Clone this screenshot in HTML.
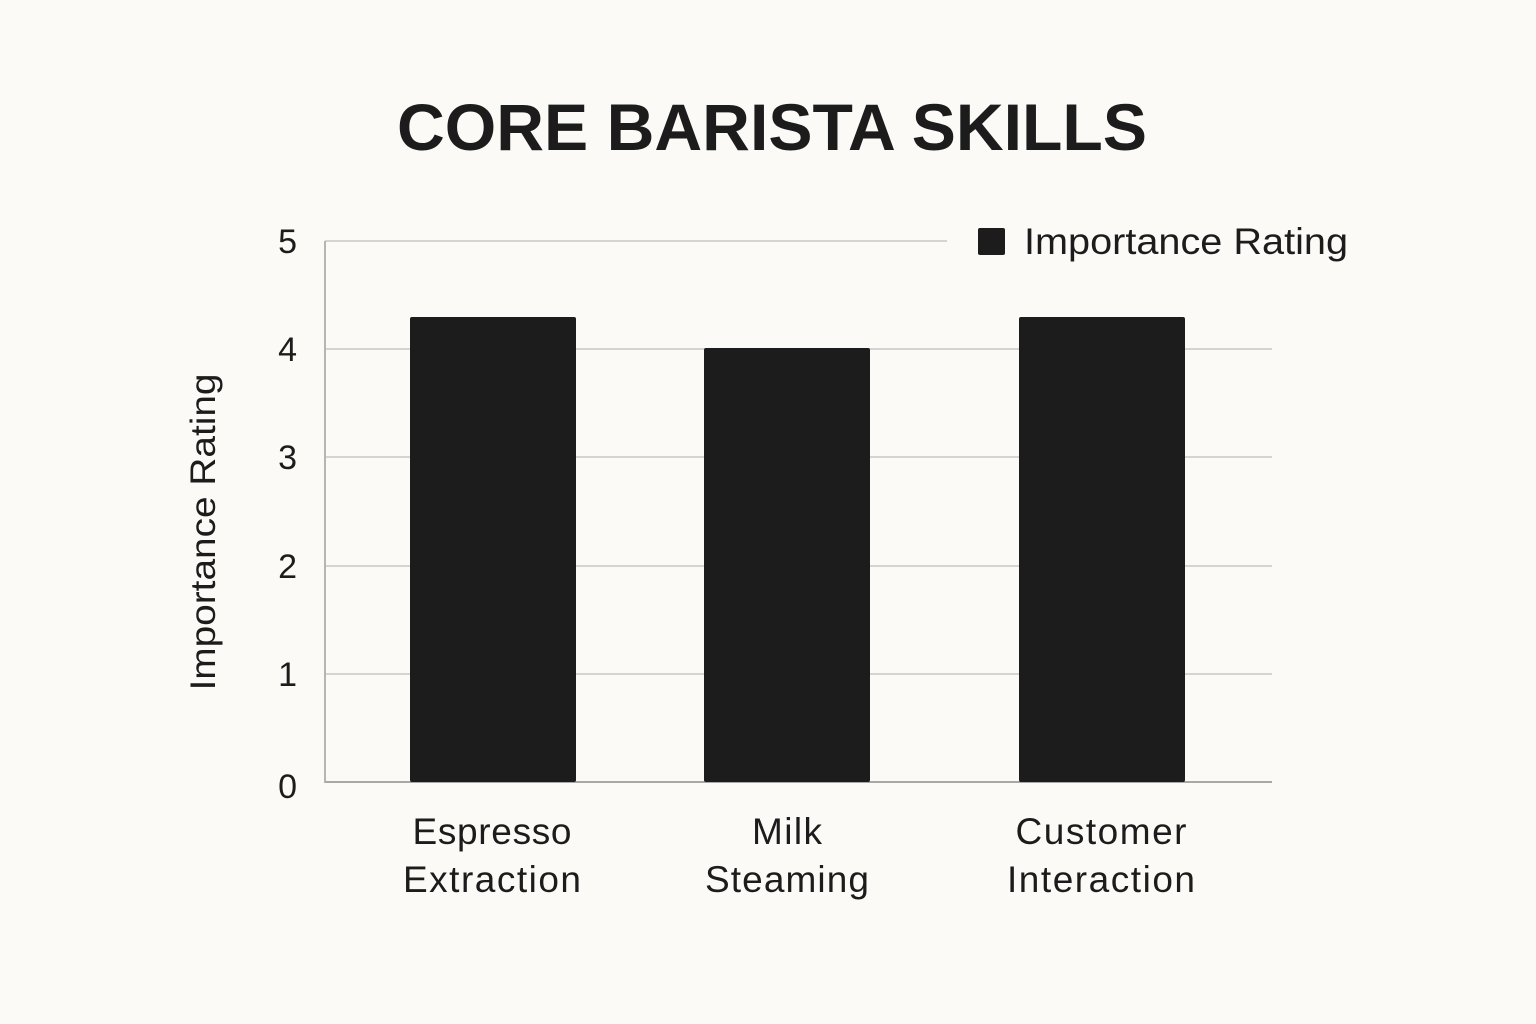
<!DOCTYPE html>
<html><head><meta charset="utf-8"><style>
html,body{margin:0;padding:0;background:#fbfaf6;}
svg{display:block;}
text{font-family:"Liberation Sans",sans-serif;fill:#1c1c1c;}
</style></head><body>
<svg width="1536" height="1024" viewBox="0 0 1536 1024">
<rect width="1536" height="1024" fill="#fbfaf6"/>
<text x="772" y="150" text-anchor="middle" font-size="66" font-weight="bold" textLength="750" lengthAdjust="spacingAndGlyphs">CORE BARISTA SKILLS</text>
<g stroke="#d4d4d2" stroke-width="2">
<line x1="325" y1="241" x2="947" y2="241"/>
<line x1="325" y1="349" x2="1272" y2="349"/>
<line x1="325" y1="457" x2="1272" y2="457"/>
<line x1="325" y1="566" x2="1272" y2="566"/>
<line x1="325" y1="674" x2="1272" y2="674"/>
</g>
<line x1="325" y1="241" x2="325" y2="783" stroke="#b5b5b3" stroke-width="2"/>
<line x1="325" y1="782" x2="1272" y2="782" stroke="#a8a8a6" stroke-width="2"/>
<g fill="#1c1c1c">
<rect x="410" y="317" width="166" height="465" rx="2"/>
<rect x="704" y="348" width="166" height="434" rx="2"/>
<rect x="1019" y="317" width="166" height="465" rx="2"/>
</g>
<g font-size="34" text-anchor="end">
<text x="297" y="253">5</text>
<text x="297" y="361">4</text>
<text x="297" y="469">3</text>
<text x="297" y="578">2</text>
<text x="297" y="686">1</text>
<text x="297" y="798">0</text>
</g>
<text transform="translate(215,532) rotate(-90)" text-anchor="middle" font-size="35" textLength="317" lengthAdjust="spacingAndGlyphs">Importance Rating</text>
<g font-size="37" text-anchor="middle" lengthAdjust="spacingAndGlyphs">
<text x="492" y="844" textLength="159">Espresso</text><text x="492" y="892" textLength="178">Extraction</text>
<text x="787" y="844" textLength="70">Milk</text><text x="787" y="892" textLength="164">Steaming</text>
<text x="1101" y="844" textLength="171">Customer</text><text x="1101" y="892" textLength="188">Interaction</text>
</g>
<rect x="978" y="228" width="27" height="27" rx="2" fill="#1c1c1c"/>
<text x="1024" y="254" font-size="37" textLength="324" lengthAdjust="spacingAndGlyphs">Importance Rating</text>
</svg>
</body></html>
